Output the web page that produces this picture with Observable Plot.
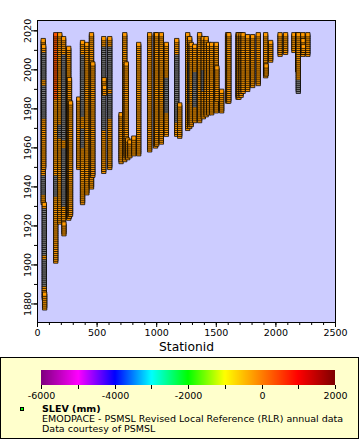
<!DOCTYPE html>
<html><head><meta charset="utf-8">
<script src="https://cdn.jsdelivr.net/npm/d3@7"></script>
<script src="https://cdn.jsdelivr.net/npm/@observablehq/plot@0.6"></script>
<style>
body{margin:0;background:#fff;font-family:"DejaVu Sans",sans-serif;}
#legend{position:relative;margin-top:1px;width:357px;height:80px;background:#ffffcc;border:1px solid #000;}
#ramp{position:absolute;left:20px;top:12px;}
#marker{position:absolute;left:19px;top:49px;width:2px;height:2px;background:#00ff00;border:1px solid #000;}
#ltext{position:absolute;left:41px;top:45.5px;font-size:9.5px;line-height:10px;white-space:nowrap;color:#000;}
</style></head><body>
<div id="chart"></div>
<div id="legend"><div id="ramp"></div><div id="marker"></div>
<div id="ltext"><b>SLEV (mm)</b><br>EMODPACE - PSMSL Revised Local Reference (RLR) annual data<br>Data courtesy of PSMSL</div></div>
<script>
// Station ids (x) and their runs of annual values [firstYear, lastYear, SLEV mm]; null = missing (NaN)
const stationIds = [48,52,57,60,153,187,219,222,262,268,277,346,378,414,453,464,556,559,562,606,701,732,745,757,775,808,849,941,990,1000,1039,1081,1168,1193,1260,1277,1290,1319,1360,1391,1415,1436,1461,1500,1505,1545,1595,1605,1682,1690,1708,1725,1763,1805,1852,1914,1918,1956,2035,2081,2151,2183,2188,2226,2228,2230,2268];
const stationSegments = [
  [[1932,1936,-200],[1937,1946,null],[1947,1975,-200],[1976,1983,null],[1984,1984,-200],[1985,1993,null],[1994,1994,-200],[1995,2010,null],[2011,2015,-200]],
  [[1950,1975,-200],[1976,1992,null],[1993,1995,-200],[1996,2009,null],[2010,2012,-200]],
  [[1883,1889,-200],[1890,1903,null],[1904,1905,-200],[1906,1929,null],[1930,1931,-200]],
  [[1878,1885,-200]],
  [[1902,1935,-200],[1936,1946,null],[1947,1985,-200],[1986,2018,350]],
  [[1922,1965,-200],[1966,1972,null],[1973,2018,-200]],
  [[1923,1930,-200],[1931,1960,null],[1961,1964,-200],[1965,2008,null],[2009,2016,-200]],
  [[1916,1921,-200]],
  [[1924,2011,-200]],
  [[1925,1995,-200]],
  [[1926,1983,-200]],
  [[1950,1985,-200]],
  [[1932,1960,-200],[1961,1970,null],[1971,1976,-200],[1977,2008,null],[2009,2014,-200]],
  [[1937,2013,-200]],
  [[1940,2018,-200]],
  [[1946,2003,-200]],
  [[1948,1969,-200],[1970,1990,null],[1991,1995,-200],[1996,2012,null],[2013,2016,-200]],
  [[1993,1995,-200]],
  [[1988,1991,-200]],
  [[1950,1975,-200],[1976,1988,null],[1989,1990,-200],[1991,2012,null],[2013,2016,-200]],
  [[1953,1977,-200]],
  [[1954,2018,-200]],
  [[1956,2003,-200]],
  [[1955,1964,-200]],
  [[1956,1963,-200]],
  [[1957,1965,-200]],
  [[1957,2013,-200]],
  [[1959,2018,-200]],
  [[1961,2018,-200]],
  [[1962,2018,-200]],
  [[1963,2018,-200]],
  [[1967,1978,-200],[1979,1996,null],[1997,2013,-200]],
  [[1967,1973,-200],[1974,2008,null],[2009,2015,-200]],
  [[1966,1982,-200]],
  [[1970,2018,-200]],
  [[1971,1983,-200],[1984,2004,null],[2005,2016,-200]],
  [[1972,2013,-200]],
  [[1974,1981,-200],[1982,1999,null],[2000,2012,-200]],
  [[1974,2018,-200]],
  [[1976,1989,-200],[1990,2000,null],[2001,2016,-200]],
  [[1977,2016,-200]],
  [[1978,2013,-200]],
  [[1978,2013,-200]],
  [[1979,2013,-200]],
  [[1985,2001,-200]],
  [[1979,1989,-200]],
  [[1984,2018,-200]],
  [[1984,2018,-200]],
  [[1986,2018,-200]],
  [[1986,2018,-200]],
  [[1987,2018,-200]],
  [[1989,2018,-200]],
  [[1990,2017,-200]],
  [[1992,2017,-200]],
  [[1993,2018,-200]],
  [[1997,2018,-200]],
  [[1998,2002,-200]],
  [[2005,2014,-200]],
  [[2008,2018,-200]],
  [[2009,2018,-200]],
  [[2010,2018,-200]],
  [[2000,2018,-200]],
  [[1989,1995,null],[1996,2018,-200]],
  [[2008,2018,-200]],
  [[2009,2015,-200]],
  [[2010,2012,-200]],
  [[2008,2018,-200]]
];
const yTickLabels = [1880,1900,1920,1940,1960,1980,2000,2020];
const yMinorTicks = [1880,1890,1900,1910,1920,1930,1940,1950,1960,1970,1980,1990,2000,2010,2020];
const xTickLabels = [0,500,1000,1500,2000,2500];
const xMinorTicks = d3.range(0, 2501, 100);
const colorStops = [-6000,-5000,-4000,-3000,-2000,-1000,0,1000,2000];
const colorRange = ["#800080","#ff00ff","#0000ff","#00ffff","#00ff00","#ffff00","#ff8000","#ff0000","#800000"];
const legendTicks = [-6000,-5000,-4000,-3000,-2000,-1000,0,1000,2000];

const rows = [];
stationIds.forEach((id, i) => {
  for (const [a, b, v] of stationSegments[i]) for (let yr = a; yr <= b; yr++) rows.push({id, year: yr, slev: v});
});

const chart = Plot.plot({
  width: 360, height: 356,
  marginTop: 20, marginBottom: 34, marginLeft: 37, marginRight: 25,
  style: {fontFamily: "DejaVu Sans", fontSize: "9.5px", color: "black", background: "white"},
  x: {domain: [0, 2500]},
  y: {domain: [1870.5, 2025.3]},
  color: {type: "linear", domain: colorStops, range: colorRange, interpolate: "rgb", unknown: "#808080"},
  marks: [
    Plot.frame({fill: "#ccccff"}),
    Plot.dot(rows, {x: "id", y: "year", fill: "slev", symbol: "square", r: 2.45, stroke: "black", strokeWidth: 0.75}),
    Plot.frame({stroke: "black", strokeWidth: 1}),
    Plot.axisX({ticks: xMinorTicks, tickSize: 3, tickFormat: () => "", label: null}),
    Plot.axisX({ticks: xTickLabels, tickSize: 5, tickPadding: 2, tickFormat: d => String(d), label: null}),
    Plot.axisY({ticks: yMinorTicks, tickSize: 3, tickFormat: () => "", label: null}),
    Plot.axisY({ticks: yTickLabels, tickSize: 6, tickFormat: () => "", label: null}),
    Plot.text(yTickLabels, {y: d => d, text: d => String(d), frameAnchor: "left", rotate: -90, dx: -10, textAnchor: "middle", lineAnchor: "middle"}),
    Plot.text(["Stationid"], {text: d => d, frameAnchor: "bottom", dy: 20, lineAnchor: "top", fontSize: 12.3})
  ]
});
document.getElementById("chart").appendChild(chart);

const ramp = Plot.legend({
  color: {type: "linear", domain: colorStops, range: colorRange, interpolate: "rgb"},
  width: 334, height: 37, marginTop: 0, marginBottom: 22, marginLeft: 20, marginRight: 20,
  tickSize: 4, ticks: legendTicks, tickFormat: d => (d % 2000 === 0 ? String(d) : ""),
  label: null,
  style: {fontFamily: "DejaVu Sans", fontSize: "9.5px", background: "none", color: "black", overflow: "visible"}
});
ramp.querySelectorAll(".tick line").forEach(l => l.setAttribute("y1", "0"));
document.getElementById("ramp").appendChild(ramp);
</script>
</body></html>
